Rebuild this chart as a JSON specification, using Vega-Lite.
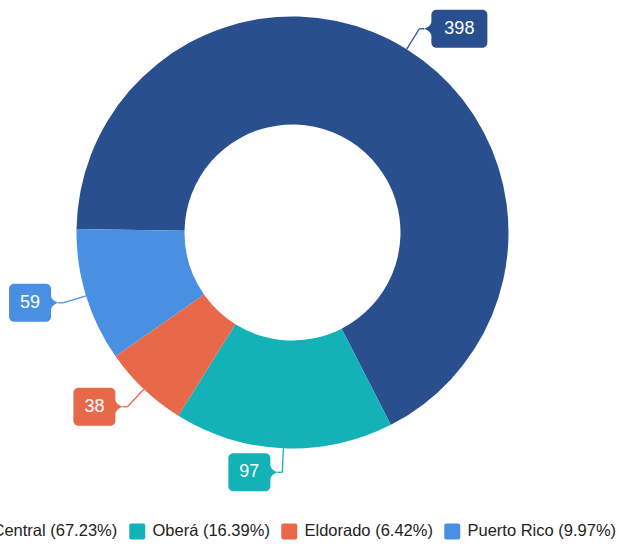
{
  "$schema": "https://vega.github.io/schema/vega-lite/v6.json",
  "width": 585,
  "height": 465,
  "autosize": {"type": "none"},
  "padding": {"left": 0, "top": 0, "right": 34, "bottom": 85},
  "background": "white",
  "config": {"view": {"stroke": null}, "font": "Liberation Sans"},
  "data": {"values": [
    {"category": "Central", "value": 398},
    {"category": "Oberá", "value": 97},
    {"category": "Eldorado", "value": 38},
    {"category": "Puerto Rico", "value": 59}
  ]},
  "transform": [
    {"window": [{"op": "row_number", "as": "ord"}]},
    {"joinaggregate": [{"op": "sum", "field": "value", "as": "total"}]},
    {"window": [{"op": "sum", "field": "value", "as": "cum"}], "sort": [{"field": "ord"}], "frame": [null, 0]},
    {"calculate": "datum.category + ' (' + format(datum.value / datum.total * 100, '.2f') + '%)'", "as": "lbl"},
    {"calculate": "-1.5551 + 2 * PI * (datum.cum - datum.value / 2) / datum.total", "as": "th"},
    {"calculate": "sin(datum.th) >= 0 ? 1 : -1", "as": "s"},
    {"calculate": "216 * sin(datum.th)", "as": "x0"},
    {"calculate": "216 * cos(datum.th)", "as": "y0"},
    {"calculate": "240 * sin(datum.th)", "as": "x1"},
    {"calculate": "240 * cos(datum.th)", "as": "y1"},
    {"calculate": "datum.x1 + datum.s * 5", "as": "x2"},
    {"calculate": "14 + 14 * length(toString(datum.value))", "as": "w"},
    {"calculate": "datum.x2 + datum.s * 7", "as": "bx0"},
    {"calculate": "datum.x2 + datum.s * (7 + datum.w)", "as": "bx1"},
    {"calculate": "datum.x2 + datum.s * (7 + datum.w / 2)", "as": "bxc"},
    {"calculate": "datum.y1 - 19", "as": "by0"},
    {"calculate": "datum.y1 + 19", "as": "by1"},
    {"calculate": "datum.s > 0 ? 'R' : 'L'", "as": "side"}
  ],
  "layer": [
    {
      "mark": {"type": "arc", "outerRadius": 216, "innerRadius": 108},
      "encoding": {
        "theta": {"field": "value", "type": "quantitative", "stack": true, "scale": {"range": [-1.5551, 4.7281]}},
        "order": {"field": "ord", "type": "quantitative"},
        "color": {
          "field": "lbl", "type": "nominal", "sort": {"field": "ord", "op": "min"},
          "scale": {"range": ["#2a4f8f", "#13b2b7", "#e8694a", "#4a90e2"]},
          "legend": {
            "title": null, "orient": "none", "legendX": -31, "legendY": 523, "direction": "horizontal",
            "symbolType": "M -0.75 -1 L 0.75 -1 Q 1 -1 1 -0.75 L 1 0.75 Q 1 1 0.75 1 L -0.75 1 Q -1 1 -1 0.75 L -1 -0.75 Q -1 -1 -0.75 -1 Z",
            "symbolSize": 256, "symbolStrokeWidth": 0, "labelFontSize": 16.5, "labelFont": "Liberation Sans",
            "labelColor": "#222", "labelOffset": 7, "columnPadding": 11, "padding": 0, "labelLimit": 300
          }
        }
      }
    },
    {
      "mark": {"type": "rule", "strokeWidth": 1.3},
      "encoding": {
        "x": {"field": "x0", "type": "quantitative", "scale": {"domain": [-292.5, 292.5], "nice": false, "zero": false}, "axis": null},
        "y": {"field": "y0", "type": "quantitative", "scale": {"domain": [-232.5, 232.5], "nice": false, "zero": false}, "axis": null},
        "x2": {"field": "x1"},
        "y2": {"field": "y1"},
        "color": {"field": "lbl", "type": "nominal", "sort": {"field": "ord", "op": "min"}, "legend": null}
      }
    },
    {
      "mark": {"type": "rule", "strokeWidth": 1.3},
      "encoding": {
        "x": {"field": "x1", "type": "quantitative", "scale": {"domain": [-292.5, 292.5], "nice": false, "zero": false}, "axis": null},
        "y": {"field": "y1", "type": "quantitative", "scale": {"domain": [-232.5, 232.5], "nice": false, "zero": false}, "axis": null},
        "x2": {"field": "x2"},
        "y2": {"field": "y1"},
        "color": {"field": "lbl", "type": "nominal", "sort": {"field": "ord", "op": "min"}, "legend": null}
      }
    },
    {
      "mark": {"type": "rect", "cornerRadius": 5},
      "encoding": {
        "x": {"field": "bx0", "type": "quantitative", "scale": {"domain": [-292.5, 292.5], "nice": false, "zero": false}, "axis": null},
        "y": {"field": "by0", "type": "quantitative", "scale": {"domain": [-232.5, 232.5], "nice": false, "zero": false}, "axis": null},
        "x2": {"field": "bx1"},
        "y2": {"field": "by1"},
        "color": {"field": "lbl", "type": "nominal", "sort": {"field": "ord", "op": "min"}, "legend": null}
      }
    },
    {
      "mark": {"type": "point", "filled": true, "opacity": 1, "strokeWidth": 0, "size": 196},
      "encoding": {
        "x": {"field": "bx0", "type": "quantitative", "scale": {"domain": [-292.5, 292.5], "nice": false, "zero": false}, "axis": null},
        "y": {"field": "y1", "type": "quantitative", "scale": {"domain": [-232.5, 232.5], "nice": false, "zero": false}, "axis": null},
        "shape": {
          "field": "side", "type": "nominal", "legend": null,
          "scale": {"domain": ["L", "R"], "range": [
            "M 1 0 Q 0.2 -0.3 0 -0.9 L -0.5 -0.9 L -0.5 0.9 L 0 0.9 Q 0.2 0.3 1 0 Z",
            "M -1 0 Q -0.2 -0.3 0 -0.9 L 0.5 -0.9 L 0.5 0.9 L 0 0.9 Q -0.2 0.3 -1 0 Z"
          ]}
        },
        "color": {"field": "lbl", "type": "nominal", "sort": {"field": "ord", "op": "min"}, "legend": null}
      }
    },
    {
      "mark": {"type": "text", "align": "center", "baseline": "middle", "fontSize": 18, "font": "Liberation Sans", "color": "white"},
      "encoding": {
        "x": {"field": "bxc", "type": "quantitative", "scale": {"domain": [-292.5, 292.5], "nice": false, "zero": false}, "axis": null},
        "y": {"field": "y1", "type": "quantitative", "scale": {"domain": [-232.5, 232.5], "nice": false, "zero": false}, "axis": null},
        "text": {"field": "value", "type": "quantitative"}
      }
    }
  ]
}
